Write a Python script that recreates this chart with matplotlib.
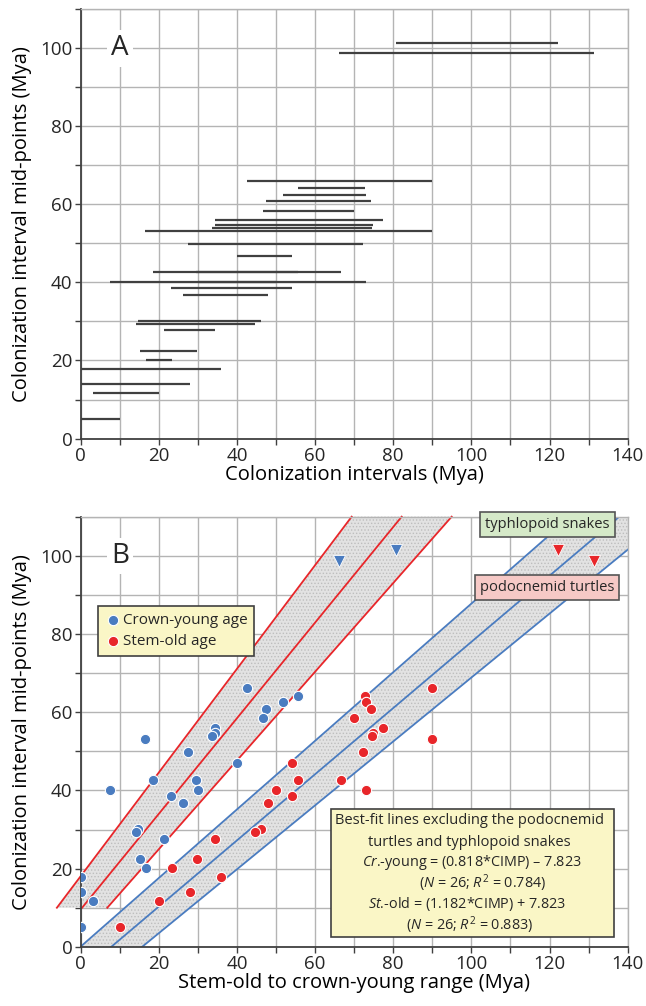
import numpy as np
import matplotlib.pyplot as plt
from matplotlib.patches import Rectangle
from matplotlib.ticker import MultipleLocator

plt.rcParams['font.family'] = ['Open Sans', 'DejaVu Sans']
plt.rcParams['mathtext.fontset'] = 'custom'
plt.rcParams['mathtext.rm'] = 'Open Sans'
plt.rcParams['mathtext.it'] = 'Open Sans:italic'
plt.rcParams['text.color'] = '#262626'
plt.rcParams['hatch.linewidth'] = 0.6

# colonization intervals (Mya): crown-young age, stem-old age, mid-point
young = [80.8, 66.0, 42.6, 55.5, 51.9, 47.5, 46.7, 34.4, 34.4, 33.6, 16.5, 27.5, 40.0, 18.5,
         29.5, 7.4, 30.0, 23.0, 26.1, 14.6, 14.2, 21.4, 15.3, 16.7, 0.0, 0.0, 3.2, 0.0]
old = [122.2, 131.3, 89.8, 72.8, 73.1, 74.3, 70.0, 77.3, 74.7, 74.5, 89.8, 72.2, 54.1, 66.6,
       55.6, 73.0, 50.0, 54.1, 47.9, 46.1, 44.7, 34.3, 29.7, 23.5, 35.9, 28.0, 20.0, 10.0]
mid = [101.5, 98.7, 66.1, 64.2, 62.5, 60.9, 58.4, 55.9, 54.6, 54.0, 53.1, 49.9, 46.9, 42.6,
       42.6, 40.1, 40.0, 38.6, 36.9, 30.2, 29.4, 27.7, 22.5, 20.1, 17.9, 13.9, 11.7, 5.0]
# first two rows = typhlopoid snakes and podocnemid turtles (left out of the fits)
n_out = 2

# best-fit lines: age = slope * CIMP + intercept
cr_slope, cr_icpt = 0.818, -7.823
st_slope, st_icpt = 1.182, 7.823
# band half-widths at the ends of each band
cr_band_y = [10, 110]
cr_band_hw = [6.45, 12.8]
st_band_y = [0, 110]
st_band_hw = [7.9, 12.5]

blue = '#4a7cc0'
red = '#e8262a'
dark = '#404040'
gridc = '#b4b4b4'

fig = plt.figure(figsize=(6.46, 10.06), dpi=100)
axA = fig.add_axes([0.1249, 0.5641, 0.8467, 0.4266])
axB = fig.add_axes([0.1249, 0.0588, 0.8467, 0.4276])

for ax in (axA, axB):
    ax.set_xlim(0, 140)
    ax.set_ylim(0, 110)
    ax.xaxis.set_major_locator(MultipleLocator(20))
    ax.xaxis.set_minor_locator(MultipleLocator(10))
    ax.yaxis.set_major_locator(MultipleLocator(20))
    ax.yaxis.set_minor_locator(MultipleLocator(10))
    ax.grid(which='both', color=gridc, lw=1.0, zorder=0)
    ax.set_axisbelow(True)
    ax.tick_params(which='both', direction='out', length=4, width=1, color=dark,
                   labelsize=13.5, labelcolor='#262626', pad=2)
    for s in ('left', 'bottom'):
        ax.spines[s].set_color(dark)
        ax.spines[s].set_linewidth(1.3)
    for s in ('top', 'right'):
        ax.spines[s].set_color(gridc)
        ax.spines[s].set_linewidth(1.0)
    ax.set_ylabel('Colonization interval mid-points (Mya)', fontsize=14.5, labelpad=6)

# ---- panel A: intervals
axA.hlines(mid, young, old, color=dark, lw=1.6, zorder=3)
axA.set_xlabel('Colonization intervals (Mya)', fontsize=14.5, labelpad=0)
axA.text(10, 100, 'A', fontsize=20, ha='center', va='center',
         bbox=dict(facecolor='white', edgecolor='none', pad=3), zorder=4)

# ---- panel B: ages vs mid-points with fit bands
def band(ax, slope, icpt, ys, hw, color, clip):
    ys = np.array(ys, dtype=float)
    hw = np.array(hw, dtype=float)
    c = slope * ys + icpt
    ax.fill_betweenx(ys, c - hw, c + hw, facecolor='#e2e2e2', edgecolor='#bdbdbd',
                     hatch='.....', lw=0, zorder=1, clip_on=clip)
    for xs in (c - hw, c, c + hw):
        ax.plot(xs, ys, color=color, lw=1.3, zorder=2, clip_on=clip)

band(axB, cr_slope, cr_icpt, cr_band_y, cr_band_hw, red, False)
band(axB, st_slope, st_icpt, st_band_y, st_band_hw, blue, True)

axB.scatter(young[n_out:], mid[n_out:], s=55, color=blue, edgecolor='white', lw=0.8,
            zorder=5, label='Crown-young age')
axB.scatter(old[n_out:], mid[n_out:], s=55, color=red, edgecolor='white', lw=0.8,
            zorder=5, label='Stem-old age')
axB.scatter(young[:n_out], mid[:n_out], s=75, marker='v', color=blue, edgecolor='white',
            lw=0.6, zorder=5)
axB.scatter(old[:n_out], mid[:n_out], s=75, marker='v', color=red, edgecolor='white',
            lw=0.6, zorder=5)

leg = axB.legend(loc='upper left', bbox_to_anchor=(0.031, 0.793), borderaxespad=0,
                 fancybox=False, framealpha=1, facecolor='#faf6c6', edgecolor=dark,
                 fontsize=11, handletextpad=0.1, handlelength=1.1, borderpad=0.45,
                 labelspacing=0.45, markerscale=1.0)
leg.get_frame().set_linewidth(1.2)
leg.set_zorder(6)

axB.text(119.4, 107.9, 'typhlopoid snakes', fontsize=10.5, ha='center', va='center',
         zorder=7, clip_on=False,
         bbox=dict(boxstyle='square,pad=0.35', facecolor='#d5e9c8', edgecolor='#555555', lw=1.2))
axB.text(119.4, 91.8, 'podocnemid turtles', fontsize=10.5, ha='center', va='center',
         zorder=7,
         bbox=dict(boxstyle='square,pad=0.35', facecolor='#f6c9c6', edgecolor='#555555', lw=1.2))

axB.add_patch(Rectangle((64.0, 2.6), 72.6, 32.7, facecolor='#faf6c6', edgecolor=dark,
                        lw=1.2, zorder=6))
box_lines = [
    (99.4, 32.2, 'Best-fit lines excluding the podocnemid', 10.5),
    (99.5, 26.8, 'turtles and typhlopoid snakes', 10.5),
    (100.2, 21.5, r'$\mathit{Cr}$.-young = (0.818*CIMP) – 7.823', 10.4),
    (103.0, 16.2, r'($\mathit{N}$ = 26; $\mathit{R}^2$ = 0.784)', 10.4),
    (98.9, 10.9, r'$\mathit{St}$.-old = (1.182*CIMP) + 7.823', 10.4),
    (99.5, 5.6, r'($\mathit{N}$ = 26; $\mathit{R}^2$ = 0.883)', 10.4),
]
for x, y, s, fs in box_lines:
    axB.text(x, y, s, fontsize=fs, ha='center', va='center', zorder=7)

axB.set_xlabel('Stem-old to crown-young range (Mya)', fontsize=14.5, labelpad=0)
axB.text(10, 100, 'B', fontsize=20, ha='center', va='center',
         bbox=dict(facecolor='white', edgecolor='none', pad=3), zorder=4)

fig.savefig('out.png', dpi=100)
